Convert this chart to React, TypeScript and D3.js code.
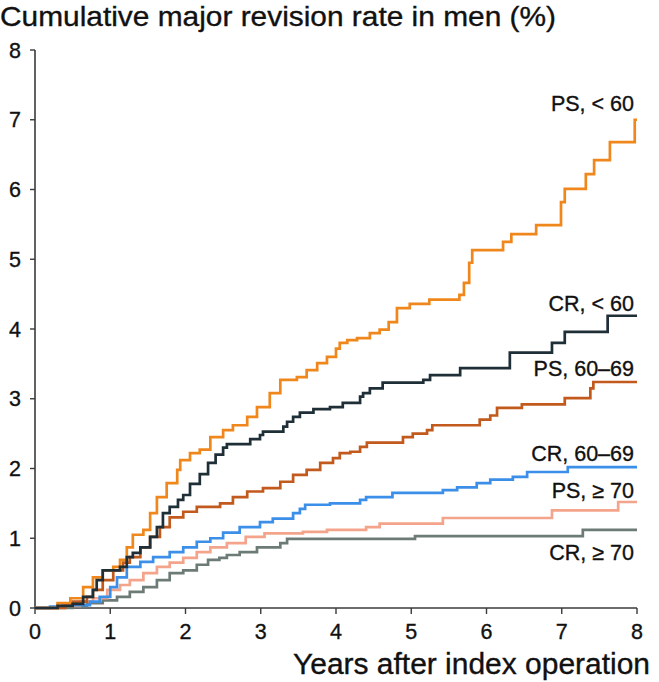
import React from "react";
import * as d3 from "d3";

type Pt = [number, number];

const xTicks = [0, 1, 2, 3, 4, 5, 6, 7, 8];
const yTicks = [0, 1, 2, 3, 4, 5, 6, 7, 8];

const psUnder60: Pt[] = [
  [0, 0], [0.3, 0.07], [0.47, 0.14], [0.64, 0.3], [0.77, 0.44], [0.9, 0.54], [1.04, 0.59], [1.13, 0.69],
  [1.22, 0.87], [1.3, 1.05], [1.44, 1.12], [1.53, 1.36], [1.62, 1.59], [1.75, 1.79], [1.89, 1.98],
  [1.93, 2.12], [2.06, 2.22], [2.19, 2.27], [2.33, 2.45], [2.5, 2.55], [2.63, 2.62], [2.82, 2.74],
  [2.95, 2.88], [3.12, 3.08], [3.26, 3.27], [3.48, 3.31], [3.61, 3.41], [3.75, 3.51], [3.88, 3.6],
  [4.0, 3.72], [4.05, 3.8], [4.15, 3.84], [4.28, 3.87], [4.45, 3.94], [4.58, 3.99], [4.7, 4.1],
  [4.81, 4.3], [4.98, 4.36], [5.24, 4.42], [5.64, 4.49], [5.7, 4.66], [5.77, 4.95], [5.81, 5.13],
  [6.22, 5.25], [6.33, 5.36], [6.66, 5.49], [6.99, 5.82], [7.04, 6.01], [7.32, 6.22], [7.43, 6.42],
  [7.64, 6.68], [7.97, 7.0], [8, 7.0],
];

const crUnder60: Pt[] = [
  [0, 0], [0.3, 0.03], [0.5, 0.06], [0.64, 0.16], [0.77, 0.26], [0.82, 0.4], [0.9, 0.54], [1.13, 0.59],
  [1.22, 0.73], [1.3, 0.79], [1.4, 0.87], [1.53, 1.02], [1.62, 1.16], [1.7, 1.36], [1.79, 1.45],
  [1.9, 1.55], [1.97, 1.62], [2.06, 1.78], [2.19, 1.92], [2.3, 2.08], [2.4, 2.2], [2.5, 2.3],
  [2.55, 2.35], [2.86, 2.42], [2.99, 2.48], [3.03, 2.53], [3.3, 2.6], [3.35, 2.67], [3.43, 2.74],
  [3.52, 2.8], [3.7, 2.85], [3.92, 2.88], [4.09, 2.94], [4.32, 3.03], [4.36, 3.08], [4.45, 3.15],
  [4.62, 3.23], [5.16, 3.27], [5.25, 3.34], [5.65, 3.44], [6.31, 3.66], [6.87, 3.8], [7.04, 3.96],
  [7.61, 4.19], [8, 4.19],
];

const ps60to69: Pt[] = [
  [0, 0], [0.4, 0.05], [0.5, 0.09], [0.69, 0.16], [0.77, 0.26], [0.9, 0.4], [1.04, 0.54], [1.17, 0.65],
  [1.26, 0.73], [1.4, 0.87], [1.53, 1.02], [1.66, 1.16], [1.79, 1.3], [1.97, 1.38], [2.15, 1.45],
  [2.46, 1.5], [2.63, 1.59], [2.82, 1.67], [3.03, 1.72], [3.26, 1.81], [3.43, 1.91], [3.61, 1.98],
  [3.79, 2.08], [3.96, 2.15], [4.05, 2.22], [4.19, 2.24], [4.32, 2.31], [4.41, 2.37], [4.89, 2.45],
  [5.02, 2.5], [5.21, 2.55], [5.28, 2.62], [5.91, 2.7], [6.05, 2.76], [6.14, 2.87], [6.47, 2.92],
  [7.04, 3.01], [7.38, 3.15], [7.42, 3.24], [8, 3.24],
];

const cr60to69: Pt[] = [
  [0, 0], [0.2, 0.02], [0.37, 0.04], [0.73, 0.09], [0.86, 0.16], [1.0, 0.3], [1.09, 0.44], [1.22, 0.59],
  [1.4, 0.66], [1.57, 0.73], [1.79, 0.8], [1.97, 0.87], [2.15, 0.95], [2.33, 1.0], [2.5, 1.08],
  [2.72, 1.16], [2.99, 1.23], [3.16, 1.28], [3.43, 1.36], [3.52, 1.42], [3.59, 1.48], [3.92, 1.5],
  [4.32, 1.55], [4.4, 1.59], [4.75, 1.65], [5.42, 1.69], [5.61, 1.73], [5.87, 1.79], [6.05, 1.84],
  [6.35, 1.88], [6.54, 1.95], [7.08, 2.02], [8, 2.02],
];

const psOver70: Pt[] = [
  [0, 0], [0.3, 0.03], [0.6, 0.09], [0.77, 0.14], [0.96, 0.26], [1.13, 0.33], [1.26, 0.4], [1.44, 0.5],
  [1.62, 0.59], [1.79, 0.65], [1.97, 0.72], [2.15, 0.8], [2.33, 0.87], [2.55, 0.93], [2.8, 1.02],
  [3.05, 1.07], [3.56, 1.09], [3.88, 1.12], [4.4, 1.16], [4.58, 1.21], [5.42, 1.29], [6.87, 1.4],
  [7.75, 1.52], [8, 1.52],
];

const crOver70: Pt[] = [
  [0, 0], [0.5, 0.02], [0.69, 0.07], [0.9, 0.11], [1.09, 0.16], [1.26, 0.23], [1.44, 0.3], [1.62, 0.4],
  [1.79, 0.5], [1.97, 0.54], [2.15, 0.62], [2.3, 0.69], [2.45, 0.72], [2.55, 0.76], [2.72, 0.8],
  [2.95, 0.87], [3.26, 0.93], [3.35, 0.99], [5.05, 1.03], [7.28, 1.12], [8, 1.12],
];

const seriesNames = ["CR, ≥ 70", "PS, ≥ 70", "CR, 60–69", "PS, 60–69", "PS, < 60", "CR, < 60"];
const seriesData = [crOver70, psOver70, cr60to69, ps60to69, psUnder60, crUnder60];
const seriesColors = ["#6c7b75", "#f4a48b", "#3c8fe8", "#c25a1d", "#f0871c", "#1f2f37"];
const labelYs = [552, 490, 453, 368, 103, 303];

export default function App() {
  const W = 659;
  const H = 682;
  const x = d3.scaleLinear().domain([0, 8]).range([35, 637]);
  const y = d3.scaleLinear().domain([0, 8]).range([608, 50]);
  const line = d3
    .line<Pt>()
    .x((d) => x(d[0]))
    .y((d) => y(d[1]))
    .curve(d3.curveStepAfter);
  const font = "'Liberation Sans', Arial, Helvetica, sans-serif";
  const axisColor = "#3a3a3a";
  const txt = { fill: "#111", stroke: "#111", strokeWidth: 0.35 };

  return (
    <svg
      width={W}
      height={H}
      viewBox={`0 0 ${W} ${H}`}
      style={{ position: "absolute", left: 0, top: 0, background: "#fff" }}
      fontFamily={font}
    >
      <rect x={0} y={0} width={W} height={H} fill="#fff" />
      <text x={0} y={26} fontSize={27.5} {...txt} textLength={556} lengthAdjust="spacingAndGlyphs">
        Cumulative major revision rate in men (%)
      </text>

      {/* axes */}
      <line x1={x(0)} x2={x(0)} y1={y(8)} y2={y(0)} stroke={axisColor} strokeWidth={1.6} />
      <line x1={x(0)} x2={x(8)} y1={y(0)} y2={y(0)} stroke={axisColor} strokeWidth={1.6} />
      {yTicks.map((t) => (
        <g key={"y" + t}>
          <line x1={x(0) - 5} x2={x(0)} y1={y(t)} y2={y(t)} stroke={axisColor} strokeWidth={1.4} />
          <text x={x(0) - 14} y={y(t)} dy="0.36em" textAnchor="end" fontSize={21.5} {...txt}>
            {t}
          </text>
        </g>
      ))}
      {xTicks.map((t) => (
        <g key={"x" + t}>
          <line x1={x(t)} x2={x(t)} y1={y(0)} y2={y(0) + 6} stroke={axisColor} strokeWidth={1.4} />
          <text x={x(t)} y={y(0) + 23} dy="0.36em" textAnchor="middle" fontSize={21.5} {...txt}>
            {t}
          </text>
        </g>
      ))}
      <text x={650} y={674} textAnchor="end" fontSize={29} {...txt} textLength={357} lengthAdjust="spacingAndGlyphs">
        Years after index operation
      </text>

      {seriesData.map((d, i) => (
        <path
          key={seriesNames[i]}
          d={line(d) || ""}
          fill="none"
          stroke={seriesColors[i]}
          strokeWidth={2.7}
          strokeLinejoin="miter"
        />
      ))}

      {seriesNames.map((n, i) => (
        <text key={"l" + n} x={634} y={labelYs[i]} dy="0.36em" textAnchor="end" fontSize={21.5} {...txt}>
          {n}
        </text>
      ))}
    </svg>
  );
}
